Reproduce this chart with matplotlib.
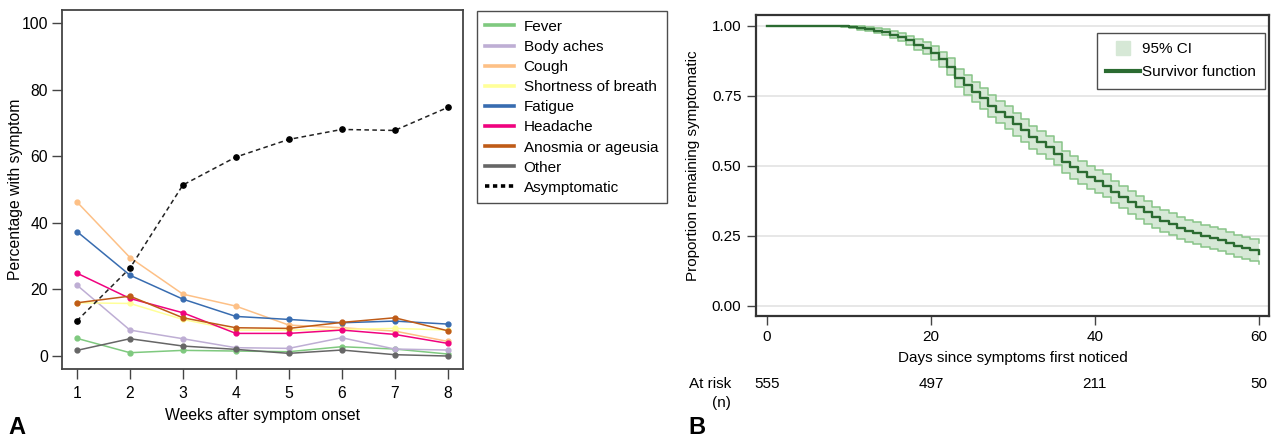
import matplotlib
matplotlib.use("Agg")
import matplotlib.pyplot as plt
import matplotlib.transforms as mtransforms
from matplotlib.lines import Line2D
import numpy as np

plt.rcParams['font.family'] = ['Liberation Sans', 'DejaVu Sans']

# ---------------- Panel A data ----------------
weeks = [1, 2, 3, 4, 5, 6, 7, 8]
symptom_names = ["Fever", "Body aches", "Cough", "Shortness of breath", "Fatigue",
                 "Headache", "Anosmia or ageusia", "Other"]
symptom_colors = ["#7fc97f", "#beaed4", "#fdc086", "#ffff99", "#386cb0",
                  "#f0027f", "#bf5b17", "#666666"]
fever = [5.3, 1.0, 1.7, 1.5, 1.3, 2.8, 2.1, 0.6]
body_aches = [21.3, 7.8, 5.2, 2.5, 2.3, 5.5, 2.1, 1.8]
cough = [46.3, 29.6, 18.6, 15.0, 9.3, 8.5, 7.5, 4.4]
shortness = [16.0, 15.8, 11.0, 7.8, 7.8, 8.0, 8.3, 7.8]
fatigue = [37.4, 24.3, 17.1, 11.9, 11.0, 10.0, 10.5, 9.6]
headache = [24.9, 17.3, 13.0, 6.8, 6.8, 7.8, 6.5, 3.8]
anosmia = [16.0, 18.0, 11.5, 8.5, 8.3, 10.1, 11.5, 7.6]
other = [1.7, 5.2, 3.0, 2.0, 0.8, 1.8, 0.4, 0.0]
asymptomatic = [10.6, 26.4, 51.4, 59.8, 65.1, 68.1, 67.8, 74.7]
symptom_series = [fever, body_aches, cough, shortness, fatigue, headache, anosmia, other]

# ---------------- Panel B data ----------------
days = list(range(0, 61))
survival = [1.0] * 9 + [0.998, 0.995, 0.992, 0.988, 0.982, 0.976, 0.968, 0.959, 0.947,
            0.932, 0.920, 0.902, 0.880, 0.854, 0.812, 0.788, 0.764, 0.740, 0.713,
            0.692, 0.672, 0.648, 0.626, 0.602, 0.584, 0.566, 0.542, 0.513, 0.495,
            0.477, 0.459, 0.444, 0.429, 0.405, 0.387, 0.369, 0.351, 0.333, 0.315,
            0.303, 0.291, 0.277, 0.267, 0.259, 0.249, 0.241, 0.234, 0.225, 0.213,
            0.205, 0.198, 0.186]
ci_lower = [1.0] * 9 + [0.996, 0.991, 0.986, 0.981, 0.973, 0.965, 0.955, 0.945, 0.930,
            0.912, 0.898, 0.878, 0.853, 0.825, 0.780, 0.754, 0.729, 0.703, 0.675,
            0.653, 0.632, 0.607, 0.585, 0.561, 0.543, 0.525, 0.501, 0.472, 0.454,
            0.436, 0.418, 0.403, 0.388, 0.365, 0.347, 0.329, 0.311, 0.293, 0.276,
            0.264, 0.252, 0.238, 0.228, 0.220, 0.210, 0.202, 0.195, 0.186, 0.174,
            0.166, 0.159, 0.147]
ci_upper = [1.0] * 9 + [1.0, 0.999, 0.997, 0.995, 0.991, 0.987, 0.981, 0.973, 0.964,
            0.952, 0.942, 0.926, 0.907, 0.883, 0.844, 0.822, 0.799, 0.777, 0.751,
            0.731, 0.712, 0.689, 0.667, 0.643, 0.625, 0.607, 0.583, 0.554, 0.536,
            0.518, 0.500, 0.485, 0.470, 0.445, 0.427, 0.409, 0.391, 0.373, 0.354,
            0.342, 0.330, 0.316, 0.306, 0.298, 0.288, 0.280, 0.273, 0.264, 0.252,
            0.244, 0.237, 0.225]
risk_days = [0, 20, 40, 60]
at_risk = [555, 497, 211, 50]

W, H = 1278, 440
fig = plt.figure(figsize=(W / 100, H / 100), dpi=100)

spine_col = "#444444"
asz = 11.3
bsz = 11

# ---------------- Panel A ----------------
axA = fig.add_axes([62 / W, 1 - 369 / H, 401 / W, 359 / H])
for name, col, vals in zip(symptom_names, symptom_colors, symptom_series):
    axA.plot(weeks, vals, color=col, lw=1.1, marker='o', ms=3.5, mec=col, mfc=col)
axA.plot(weeks, asymptomatic, color='#222222', lw=1.1, ls=(0, (3, 2.2)), marker='o',
         ms=3.8, mfc='black', mec='black')
axA.set_xlim(0.717, 8.29)
axA.set_ylim(-3.9, 104)
axA.set_xticks(weeks)
axA.set_yticks([0, 20, 40, 60, 80, 100])
axA.tick_params(direction='out', length=7, width=1, color=spine_col, labelsize=asz,
                pad=3)
axA.tick_params(axis='x', pad=5)
for s in axA.spines.values():
    s.set_color(spine_col)
    s.set_linewidth(1.3)
axA.set_xlabel("Weeks after symptom onset", fontsize=asz, labelpad=5)
axA.set_ylabel("Percentage with symptom", fontsize=asz)
axA.yaxis.set_label_coords(-0.098, 0.5)

handlesA = [Line2D([0], [0], color=c, lw=2.6) for c in symptom_colors]
handlesA.append(Line2D([0], [0], color='black', lw=2.6, ls=(0, (1.2, 1.0))))
legA = axA.legend(handlesA, symptom_names + ["Asymptomatic"], loc='upper left',
                  bbox_to_anchor=(1.035, 0.996), frameon=True, fancybox=False,
                  edgecolor='#222222', fontsize=11, handlelength=1.9,
                  handletextpad=0.6, labelspacing=0.40, borderpad=0.55,
                  borderaxespad=0)
legA.get_frame().set_linewidth(1.0)

fig.text(8 / W, 1 - 439 / H, "A", fontsize=17, fontweight='bold', ha='left',
         va='bottom')

# ---------------- Panel B ----------------
axB = fig.add_axes([756 / W, 1 - 315.7 / H, 513 / W, 301 / H])
for yv in [0, 0.25, 0.5, 0.75, 1.0]:
    axB.axhline(yv, color='#e3e3e3', lw=1.2, zorder=0)
axB.fill_between(days, ci_lower, ci_upper, step='post', color='#d6e8d6', lw=0, zorder=1)
axB.step(days, ci_lower, where='post', color='#88c488', lw=1.1, zorder=2)
axB.step(days, ci_upper, where='post', color='#88c488', lw=1.1, zorder=2)
axB.step(days, survival, where='post', color='#2b6b31', lw=1.7, zorder=3)
axB.set_xlim(-1.34, 61.26)
axB.set_ylim(-0.036, 1.039)
axB.set_xticks([0, 20, 40, 60])
axB.set_yticks([0, 0.25, 0.5, 0.75, 1.0])
axB.set_yticklabels(["0.00", "0.25", "0.50", "0.75", "1.00"])
axB.tick_params(direction='out', length=6.5, width=1, color=spine_col, labelsize=bsz,
                pad=4)
for s in axB.spines.values():
    s.set_color('#333333')
    s.set_linewidth(1.6)
axB.set_xlabel("Days since symptoms first noticed", fontsize=bsz, labelpad=5)
axB.set_ylabel("Proportion remaining symptomatic", fontsize=bsz)
axB.yaxis.set_label_coords(-0.109, 0.5)

handlesB = [Line2D([0], [0], marker='s', ms=10.5, color='#d6e8d6', ls='none'),
            Line2D([0], [0], color='#2b6b31', lw=3)]
legB = axB.legend(handlesB, ["95% CI", "Survivor function"], loc='upper right',
                  bbox_to_anchor=(0.992, 0.939), frameon=True, fancybox=False,
                  edgecolor='#222222', handlelength=2.2,
                  handletextpad=0.15, labelspacing=0.6, borderpad=0.6,
                  borderaxespad=0, fontsize=bsz)
legB.get_frame().set_linewidth(1.0)

trans = mtransforms.blended_transform_factory(axB.transData, fig.transFigure)
for d, n in zip(risk_days, at_risk):
    axB.text(d, 1 - 384 / H, str(n), transform=trans, ha='center', va='center',
             fontsize=bsz, clip_on=False)
fig.text(731 / W, 1 - 384 / H, "At risk", ha='right', va='center', fontsize=bsz)
fig.text(731 / W, 1 - 403 / H, "(n)", ha='right', va='center', fontsize=bsz)

fig.text(688 / W, 1 - 439 / H, "B", fontsize=17, fontweight='bold', ha='left',
         va='bottom')

fig.savefig("out.png", dpi=100)
